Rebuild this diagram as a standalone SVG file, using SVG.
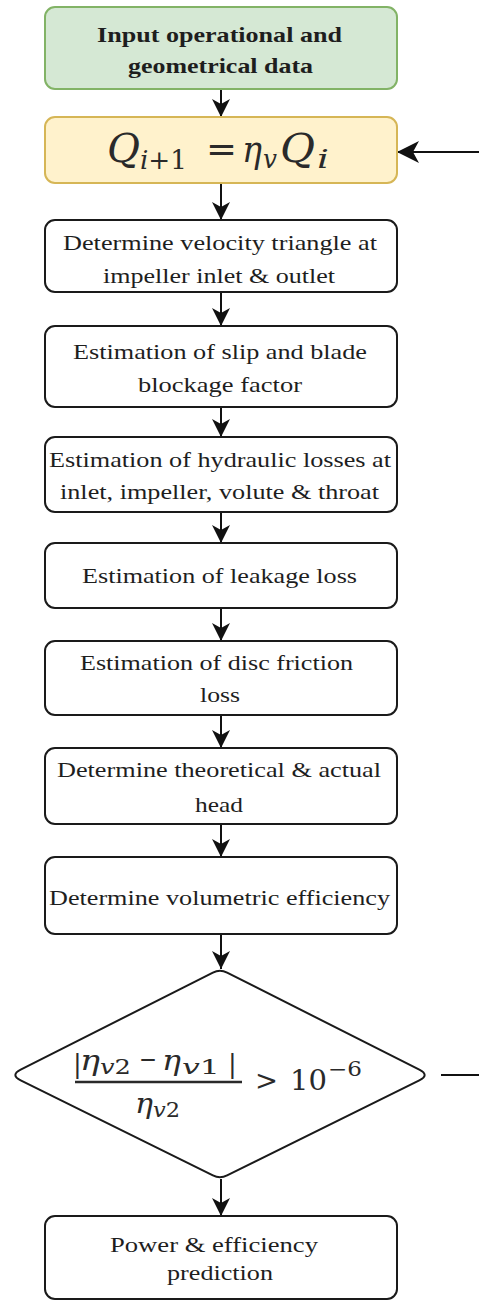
<svg xmlns="http://www.w3.org/2000/svg" width="479" height="1301" viewBox="0 0 479 1301">
<style>
.box{fill:#ffffff;stroke:#1a1a1a;stroke-width:2}
.txt{font-family:"Liberation Serif","Times New Roman",serif;font-size:22px;fill:#1e1e1e}
.bold{font-weight:bold}
.m{font-family:"DejaVu Serif","Liberation Serif",serif;fill:#2a2a2a}
.it{font-style:italic}
.conn{stroke:#111;stroke-width:2;fill:none}
</style>
<defs>
<marker id="ah" markerUnits="userSpaceOnUse" markerWidth="20" markerHeight="20" viewBox="0 -10 20 20" refX="18" refY="0" orient="auto">
<path d="M0,-9 L18,0 L0,9 L5,0 Z" fill="#111"/>
</marker>
<marker id="ah2" markerUnits="userSpaceOnUse" markerWidth="24" markerHeight="24" viewBox="0 -12 24 24" refX="22" refY="0" orient="auto">
<path d="M0,-11 L22,0 L0,11 L6,0 Z" fill="#111"/>
</marker>
</defs>
<rect width="479" height="1301" fill="#ffffff"/>

<g id="connectors">
<line class="conn" x1="221" y1="89" x2="221" y2="117" marker-end="url(#ah)"/>
<line class="conn" x1="221" y1="183" x2="221" y2="220" marker-end="url(#ah)"/>
<line class="conn" x1="221" y1="292" x2="221" y2="326" marker-end="url(#ah)"/>
<line class="conn" x1="221" y1="407" x2="221" y2="437" marker-end="url(#ah)"/>
<line class="conn" x1="221" y1="512" x2="221" y2="543" marker-end="url(#ah)"/>
<line class="conn" x1="221" y1="608" x2="221" y2="641" marker-end="url(#ah)"/>
<line class="conn" x1="221" y1="715" x2="221" y2="748" marker-end="url(#ah)"/>
<line class="conn" x1="221" y1="824" x2="221" y2="857" marker-end="url(#ah)"/>
<line class="conn" x1="221" y1="934" x2="221" y2="969" marker-end="url(#ah)"/>
<line class="conn" x1="221" y1="1179" x2="221" y2="1216" marker-end="url(#ah)"/>
<line class="conn" x1="441" y1="1075" x2="479" y2="1075"/>
<line class="conn" x1="479" y1="152" x2="397" y2="152" marker-end="url(#ah2)"/>
</g>

<g id="node-input">
<rect x="45" y="7" width="352" height="82" rx="10" fill="#d5e8d4" stroke="#82b366" stroke-width="2"/>
<text class="txt bold" x="97" y="42" font-size="23" textLength="245" lengthAdjust="spacingAndGlyphs">Input operational and</text>
<text class="txt bold" x="128" y="73" font-size="23" textLength="185" lengthAdjust="spacingAndGlyphs">geometrical data</text>
</g>

<g id="node-q-update">
<rect x="45" y="117" width="352" height="66" rx="10" fill="#fff2cc" stroke="#d6b656" stroke-width="2"/>
<text class="m it" x="107" y="162" font-size="40" textLength="33" lengthAdjust="spacingAndGlyphs">Q</text>
<text class="m" x="140" y="169" font-size="26" textLength="47" lengthAdjust="spacingAndGlyphs"><tspan class="it">i</tspan>+1</text>
<text class="m" x="206" y="162" font-size="38" textLength="31" lengthAdjust="spacingAndGlyphs">=</text>
<text class="m it" x="242" y="162" font-size="38" textLength="20" lengthAdjust="spacingAndGlyphs">η</text>
<text class="m it" x="263" y="168" font-size="26" textLength="14" lengthAdjust="spacingAndGlyphs">v</text>
<text class="m it" x="280" y="162" font-size="40" textLength="35" lengthAdjust="spacingAndGlyphs">Q</text>
<text class="m it" x="317" y="168" font-size="26" textLength="12" lengthAdjust="spacingAndGlyphs">i</text>
</g>

<g id="node-velocity">
<rect class="box" x="45" y="220" width="352" height="72" rx="10"/>
<text class="txt" x="63" y="250" textLength="314" lengthAdjust="spacingAndGlyphs">Determine velocity triangle at</text>
<text class="txt" x="103" y="283" textLength="232" lengthAdjust="spacingAndGlyphs">impeller inlet &amp; outlet</text>
</g>

<g id="node-slip">
<rect class="box" x="45" y="326" width="352" height="81" rx="10"/>
<text class="txt" x="73" y="359" textLength="294" lengthAdjust="spacingAndGlyphs">Estimation of slip and blade</text>
<text class="txt" x="138" y="392" textLength="164" lengthAdjust="spacingAndGlyphs">blockage factor</text>
</g>

<g id="node-hydraulic">
<rect class="box" x="45" y="437" width="352" height="75" rx="10"/>
<text class="txt" x="49" y="467" textLength="342" lengthAdjust="spacingAndGlyphs">Estimation of hydraulic losses at</text>
<text class="txt" x="60" y="499" textLength="319" lengthAdjust="spacingAndGlyphs">inlet, impeller, volute &amp; throat</text>
</g>

<g id="node-leakage">
<rect class="box" x="45" y="543" width="352" height="65" rx="10"/>
<text class="txt" x="82" y="583" textLength="275" lengthAdjust="spacingAndGlyphs">Estimation of leakage loss</text>
</g>

<g id="node-disc">
<rect class="box" x="45" y="641" width="352" height="74" rx="10"/>
<text class="txt" x="80" y="670" textLength="273" lengthAdjust="spacingAndGlyphs">Estimation of disc friction</text>
<text class="txt" x="200" y="702" textLength="40" lengthAdjust="spacingAndGlyphs">loss</text>
</g>

<g id="node-head">
<rect class="box" x="45" y="748" width="352" height="76" rx="10"/>
<text class="txt" x="57" y="777" textLength="324" lengthAdjust="spacingAndGlyphs">Determine theoretical &amp; actual</text>
<text class="txt" x="195" y="812" textLength="48" lengthAdjust="spacingAndGlyphs">head</text>
</g>

<g id="node-volumetric">
<rect class="box" x="45" y="857" width="352" height="77" rx="10"/>
<text class="txt" x="49" y="905" textLength="341" lengthAdjust="spacingAndGlyphs">Determine volumetric efficiency</text>
</g>

<g id="node-decision">
<path class="box" d="M212.9,972.6 Q220,969 227.1,972.6 L419.3,1069.6 Q430,1075 419.3,1080.4 L227.1,1175.4 Q220,1179 212.9,1175.4 L20.7,1080.4 Q10,1075 20.7,1069.6 Z"/>
<text class="m" x="73" y="1073" font-size="26">|</text>
<text class="m it" x="80" y="1070" font-size="28" textLength="20" lengthAdjust="spacingAndGlyphs">η</text>
<text class="m" x="100" y="1074" font-size="21" textLength="31" lengthAdjust="spacingAndGlyphs"><tspan class="it">v</tspan>2</text>
<text class="m" x="139" y="1068" font-size="26" textLength="18" lengthAdjust="spacingAndGlyphs">−</text>
<text class="m it" x="162" y="1070" font-size="28" textLength="19" lengthAdjust="spacingAndGlyphs">η</text>
<text class="m" x="182" y="1074" font-size="21" textLength="38" lengthAdjust="spacingAndGlyphs"><tspan class="it">v</tspan>1</text>
<text class="m" x="228" y="1073" font-size="26">|</text>
<line x1="75" y1="1082" x2="242" y2="1082" stroke="#2a2a2a" stroke-width="2.5"/>
<text class="m it" x="135" y="1113" font-size="28" textLength="18" lengthAdjust="spacingAndGlyphs">η</text>
<text class="m" x="153" y="1117" font-size="21" textLength="27" lengthAdjust="spacingAndGlyphs"><tspan class="it">v</tspan>2</text>
<text class="m" x="255" y="1090" font-size="28" textLength="23" lengthAdjust="spacingAndGlyphs">&gt;</text>
<text class="m" x="290" y="1090" font-size="28" textLength="37" lengthAdjust="spacingAndGlyphs">10</text>
<text class="m" x="328" y="1076" font-size="20" textLength="34" lengthAdjust="spacingAndGlyphs">−6</text>
</g>

<g id="node-power">
<rect class="box" x="45" y="1216" width="352" height="83" rx="10"/>
<text class="txt" x="110" y="1252" textLength="208" lengthAdjust="spacingAndGlyphs">Power &amp; efficiency</text>
<text class="txt" x="167" y="1280" textLength="106" lengthAdjust="spacingAndGlyphs">prediction</text>
</g>
</svg>
